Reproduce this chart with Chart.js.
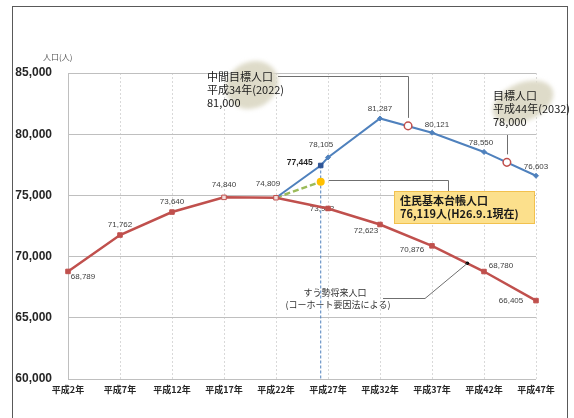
<!DOCTYPE html>
<html>
<head>
<meta charset="utf-8">
<script src="https://cdn.jsdelivr.net/npm/chart.js@4.4.1/dist/chart.umd.min.js"></script>
<style>
  html, body { margin: 0; padding: 0; background: #fff; }
</style>
</head>
<body>
<canvas id="populationChart" width="574" height="418"></canvas>
<script>
// 軸の目盛り
const xTickYears = [2, 7, 12, 17, 22, 27, 32, 37, 42, 47];
const xTickLabels = ["平成2年", "平成7年", "平成12年", "平成17年", "平成22年", "平成27年", "平成32年", "平成37年", "平成42年", "平成47年"];
const yTickValues = [60000, 65000, 70000, 75000, 80000, 85000];

// すう勢将来人口（コーホート要因法）
const trendYears = [2, 7, 12, 17, 22, 27, 32, 37, 42, 47];
const trendValues = [68789, 71762, 73640, 74840, 74809, 73932, 72623, 70876, 68780, 66405];

// 目標人口の推移
const targetYears = [22, 26.3, 27, 32, 37, 42, 47];
const targetValues = [74809, 77445, 78105, 81287, 80121, 78550, 76603];

// 住民基本台帳人口
const registryYears = [22, 26.3];
const registryValues = [74809, 76119];

// 中間目標・目標の印
const goalYears = [34.7, 44.2];
const goalValues = [80680, 77700];

// H26.9 の基準線
const baseLineYears = [26.3, 26.3];
const baseLineValues = [77445, 60000];

// すう勢ラベルの引出し点
const trendNoteYears = [40.4];
const trendNoteValues = [69451];

const toPoints = (xs, ys) => xs.map((x, i) => ({ x: x, y: ys[i] }));
const fmt = (v) => v.toLocaleString("en-US");

const RED = "#C0504D";
const BLUE = "#4F81BD";
const LABEL_FONT = "8px 'Liberation Sans', sans-serif";
const JP = "'Noto Sans CJK JP', sans-serif";

/**
 * データラベル（点からのずれ）
 */
const labelSpecs = [
  { dataset: 2, offsets: [[15, 5], [0, -10], [0, -10], [0, -13], [-8, -14], [-6, 0], [-14, 6], [-20, 4], [17, -6], [-25, 0]] },
  { dataset: 3, offsets: [null, [-21, -3], [-7, -13], [0, -10], [5, -8], [-3, -9], [0, -9]], bold: [1] }
];

const dataLabelPlugin = {
  id: "dataLabels",
  beforeDatasetsDraw(chart) {
    const ctx = chart.ctx;
    ctx.save();
    ctx.textAlign = "center";
    ctx.textBaseline = "middle";
    labelSpecs.forEach((spec) => {
      const meta = chart.getDatasetMeta(spec.dataset);
      const values = chart.data.datasets[spec.dataset].data;
      spec.offsets.forEach((off, i) => {
        if (!off) return;
        const el = meta.data[i];
        const isBold = spec.bold && spec.bold.includes(i);
        ctx.font = isBold ? "bold 8.5px 'Liberation Sans', sans-serif" : LABEL_FONT;
        ctx.fillStyle = isBold ? "#262626" : "#404040";
        ctx.fillText(fmt(values[i].y), el.x + off[0], el.y + off[1]);
      });
    });
    ctx.restore();
  }
};

const notesPlugin = {
  id: "notes",
  afterDraw(chart) {
    const ctx = chart.ctx;
    const { x, y } = chart.scales;
    ctx.save();

    // 枠
    ctx.strokeStyle = "#595959";
    ctx.lineWidth = 1;
    ctx.strokeRect(12.5, 6.5, 555, 420);

    // 縦軸タイトル
    ctx.font = "8px " + JP;
    ctx.fillStyle = "#595959";
    ctx.textBaseline = "middle";
    ctx.fillText("人口(人)", 43, 57);

    // 背景のぼかし楕円
    ctx.filter = "blur(2px)";
    ctx.fillStyle = "#DEDBC9";
    ctx.beginPath();
    ctx.ellipse(252, 85, 27, 23, -0.5, 0, Math.PI * 2);
    ctx.fill();
    ctx.beginPath();
    ctx.ellipse(523, 102, 32, 19, -0.4, 0, Math.PI * 2);
    ctx.fill();
    ctx.filter = "none";

    // 引出し線
    const goal1 = { px: x.getPixelForValue(goalYears[0]), py: y.getPixelForValue(goalValues[0]) };
    const goal2 = { px: x.getPixelForValue(goalYears[1]), py: y.getPixelForValue(goalValues[1]) };
    const reg = { px: x.getPixelForValue(registryYears[1]), py: y.getPixelForValue(registryValues[1]) };
    const note = { px: x.getPixelForValue(trendNoteYears[0]), py: y.getPixelForValue(trendNoteValues[0]) };

    ctx.strokeStyle = "#6F6F6F";
    ctx.lineWidth = 1;
    ctx.beginPath();
    ctx.moveTo(278, 76.5);
    ctx.lineTo(Math.round(goal1.px) + 0.5, 76.5);
    ctx.lineTo(Math.round(goal1.px) + 0.5, goal1.py - 8);
    ctx.moveTo(Math.round(goal2.px) + 0.5, 135);
    ctx.lineTo(Math.round(goal2.px) + 0.5, goal2.py - 8);
    ctx.moveTo(reg.px + 8, 180.5);
    ctx.lineTo(448.5, 180.5);
    ctx.lineTo(448.5, 191);
    ctx.moveTo(383, 298.5);
    ctx.lineTo(425, 298.5);
    ctx.lineTo(note.px, note.py);
    ctx.stroke();

    // 中間目標人口
    ctx.fillStyle = "#1A1A1A";
    ctx.textAlign = "left";
    ctx.font = "11px " + JP;
    ctx.fillText("中間目標人口", 207, 77);
    ctx.fillText("平成34年(2022)", 207, 90);
    ctx.fillText("81,000", 207, 103);

    // 目標人口
    ctx.fillText("目標人口", 493, 96);
    ctx.fillText("平成44年(2032)", 493, 109);
    ctx.fillText("78,000", 493, 122);

    // 住民基本台帳人口
    ctx.fillStyle = "#FCE08C";
    ctx.fillRect(394, 191, 140, 32);
    ctx.strokeStyle = "#F2C14E";
    ctx.strokeRect(394.5, 191.5, 140, 32);
    ctx.fillStyle = "#1A1A1A";
    ctx.font = "bold 11px " + JP;
    ctx.fillText("住民基本台帳人口", 400, 201);
    ctx.fillText("76,119人(H26.9.1現在)", 400, 214);

    // すう勢将来人口
    ctx.font = "9px " + JP;
    ctx.fillStyle = "#333333";
    ctx.textAlign = "center";
    ctx.fillText("すう勢将来人口", 335, 293);
    ctx.fillText("(コーホート要因法による)", 338, 305);

    ctx.restore();
  }
};

const ctx = document.getElementById("populationChart").getContext("2d");

new Chart(ctx, {
  type: "line",
  data: {
    datasets: [
      {
        label: "目標",
        data: toPoints(goalYears, goalValues),
        showLine: false,
        pointStyle: "circle",
        pointRadius: 3.8,
        pointBorderWidth: 1.5,
        pointBorderColor: RED,
        pointBackgroundColor: "#FFFFFF",
        clip: false
      },
      {
        label: "引出し点",
        data: toPoints(trendNoteYears, trendNoteValues),
        showLine: false,
        pointRadius: 1.8,
        pointBorderWidth: 0,
        pointBackgroundColor: "#000000"
      },
      {
        label: "すう勢将来人口",
        data: toPoints(trendYears, trendValues),
        borderColor: RED,
        borderWidth: 2.5,
        pointStyle: "rect",
        pointRadius: 3.2,
        pointBorderWidth: 1,
        pointBorderColor: RED,
        pointBackgroundColor: [RED, RED, RED, "#F2DCDB", "#F2DCDB", RED, RED, RED, RED, RED],
        clip: false
      },
      {
        label: "目標人口",
        data: toPoints(targetYears, targetValues),
        borderColor: BLUE,
        borderWidth: 2,
        pointStyle: ["circle", "rect", "rectRot", "rectRot", "rectRot", "rectRot", "rectRot"],
        pointRadius: [0, 3.2, 2.5, 2.5, 2.5, 2.5, 2.5],
        pointBorderWidth: 1,
        pointBorderColor: ["#2F5597", "#2F5597", BLUE, BLUE, BLUE, BLUE, BLUE],
        pointBackgroundColor: ["#2F5597", "#2F5597", BLUE, BLUE, BLUE, BLUE, BLUE],
        clip: false
      },
      {
        label: "住民基本台帳人口",
        data: toPoints(registryYears, registryValues),
        borderColor: "#9BBB59",
        borderWidth: 2.5,
        borderDash: [6, 3],
        pointRadius: [0, 4],
        pointBorderWidth: 0,
        pointBackgroundColor: "#FFC000"
      },
      {
        label: "基準線",
        data: toPoints(baseLineYears, baseLineValues),
        borderColor: BLUE,
        borderWidth: 1,
        borderDash: [3, 2],
        pointRadius: 0
      }
    ]
  },
  options: {
    responsive: false,
    animation: false,
    layout: { padding: { left: 0, right: 38, top: 73, bottom: 0 } },
    plugins: {
      legend: { display: false },
      tooltip: { enabled: false }
    },
    scales: {
      x: {
        type: "linear",
        min: 2,
        max: 47,
        afterFit(scale) { scale.height = 39; },
        afterBuildTicks(scale) { scale.ticks = xTickYears.map((v) => ({ value: v })); },
        ticks: {
          callback: (value, index) => xTickLabels[index],
          autoSkip: false,
          maxRotation: 0,
          padding: 5,
          color: "#262626",
          font: { family: "'Noto Sans CJK JP', sans-serif", size: 9, weight: "bold" }
        },
        grid: { color: "#D9D9D9", lineWidth: 1, drawTicks: false },
        border: { display: false, dash: [2, 2] }
      },
      y: {
        min: 60000,
        max: 85000,
        afterFit(scale) { scale.width = 68; },
        afterBuildTicks(scale) { scale.ticks = yTickValues.map((v) => ({ value: v })); },
        ticks: {
          callback: (value) => fmt(value),
          padding: 16,
          color: "#262626",
          font: { family: "'Liberation Sans', sans-serif", size: 12, weight: "bold" }
        },
        grid: { color: "#BFBFBF", lineWidth: 1, drawTicks: false },
        border: { display: true, color: "#BFBFBF" }
      }
    }
  },
  plugins: [dataLabelPlugin, notesPlugin]
});
</script>
</body>
</html>
